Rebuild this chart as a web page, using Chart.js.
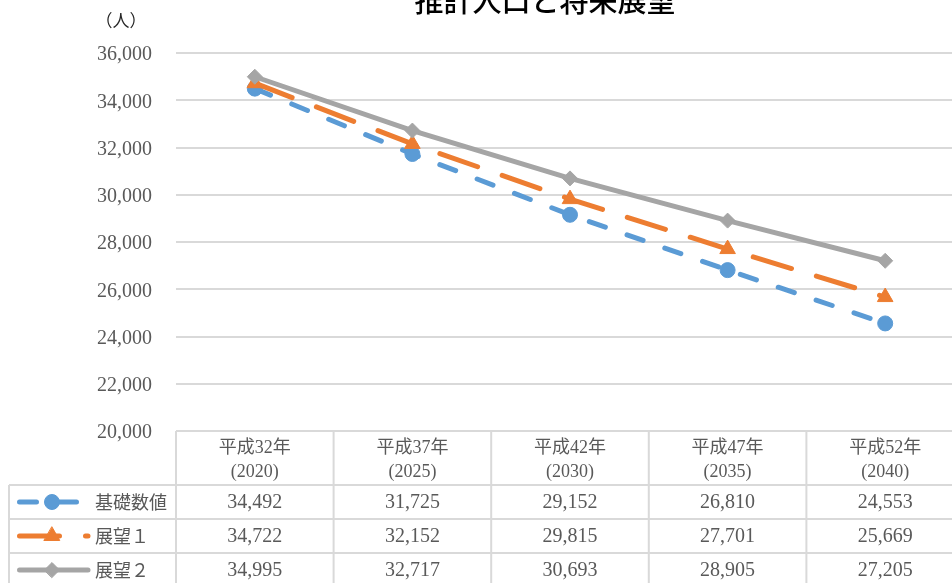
<!DOCTYPE html>
<html>
<head>
<meta charset="utf-8">
<script src="https://cdn.jsdelivr.net/npm/chart.js@4"></script>
<style>
  html, body { margin: 0; padding: 0; background: #fff; overflow: hidden; }
  #wrap { width: 966px; height: 583px; position: relative; }
</style>
</head>
<body>
<div id="wrap"><canvas id="c" width="966" height="583"></canvas></div>
<script>
// 推計人口と将来展望 — population projection (persons)
const categories = [
  ['平成32年', '(2020)'],
  ['平成37年', '(2025)'],
  ['平成42年', '(2030)'],
  ['平成47年', '(2035)'],
  ['平成52年', '(2040)']
];
const seriesNames = ['基礎数値', '展望１', '展望２'];
const baseValues    = [34492, 31725, 29152, 26810, 24553];
const vision1Values = [34722, 32152, 29815, 27701, 25669];
const vision2Values = [34995, 32717, 30693, 28905, 27205];
const yMin = 20000, yMax = 36000, yStep = 2000;

const titleText = '推計人口と将来展望';
const unitText = '（人）';

const BLUE = '#5B9BD5', ORANGE = '#ED7D31', GRAY = '#A5A5A5';
const GRID = '#d9d9d9', TEXT = '#595959';
const SERIF = '"Liberation Serif", "Noto Sans CJK JP", serif';
const CJK = '"Noto Sans CJK JP", "Liberation Serif", sans-serif';

const blueDash = [17, 23];
const orangeDash = [40, 26];

const fmt = v => v.toLocaleString('en-US');

// Data table under the plot, with legend keys in the first column
const tablePlugin = {
  id: 'dataTable',
  afterDraw(chart) {
    const ctx = chart.ctx;
    const area = chart.chartArea;
    const xs = chart.scales.x;
    const n = categories.length;
    const centers = categories.map((_, i) => xs.getPixelForValue(i));
    const bw = centers[1] - centers[0];
    const edges = [centers[0] - bw / 2, ...centers.map(c => c + bw / 2)];
    const legendLeft = 9;
    const top = area.bottom;
    const headerH = 54, rowH = 34;
    const rowTops = [top + headerH, top + headerH + rowH, top + headerH + 2 * rowH];
    const bottom = chart.height + 10;
    const right = edges[n];

    ctx.save();
    // title and unit
    ctx.fillStyle = '#000';
    ctx.font = '500 29px ' + CJK;
    ctx.textAlign = 'center';
    ctx.textBaseline = 'alphabetic';
    ctx.fillText(titleText, 545, 12);
    ctx.font = '17px ' + CJK;
    ctx.fillStyle = '#262626';
    ctx.textBaseline = 'middle';
    ctx.fillText(unitText, 121, 21);

    // grid of the table
    ctx.strokeStyle = GRID;
    ctx.lineWidth = 2;
    ctx.beginPath();
    ctx.moveTo(edges[0], top); ctx.lineTo(right, top);
    rowTops.forEach(y => { ctx.moveTo(legendLeft, y); ctx.lineTo(right, y); });
    ctx.moveTo(legendLeft, rowTops[0]); ctx.lineTo(legendLeft, bottom);
    edges.forEach(x => { ctx.moveTo(x, top); ctx.lineTo(x, bottom); });
    ctx.stroke();

    // header cells
    ctx.fillStyle = TEXT;
    ctx.textAlign = 'center';
    ctx.textBaseline = 'middle';
    categories.forEach((lines, i) => {
      ctx.font = '18px ' + SERIF;
      ctx.fillText(lines[0], centers[i], top + 17);
      ctx.fillText(lines[1], centers[i], top + 41);
    });

    // value rows
    const sets = chart.data.datasets;
    sets.forEach((ds, r) => {
      const yc = rowTops[r] + rowH / 2;
      ctx.font = '20px ' + SERIF;
      ctx.fillStyle = TEXT;
      ctx.textAlign = 'center';
      ds.data.forEach((v, i) => ctx.fillText(fmt(v), centers[i], yc + 1));

      // legend key: a short line in the series style with its marker
      const x0 = 19.5, x1 = r === 0 ? 79.5 : 88, mx = 52;
      ctx.save();
      ctx.strokeStyle = ds.borderColor;
      ctx.lineWidth = 5;
      ctx.lineCap = 'round';
      ctx.setLineDash(ds.borderDash || []);
      ctx.beginPath();
      ctx.moveTo(x0, yc); ctx.lineTo(x1, yc);
      ctx.stroke();
      ctx.setLineDash([]);
      ctx.fillStyle = ds.pointBackgroundColor;
      ctx.strokeStyle = ds.pointBorderColor;
      ctx.lineWidth = ds.pointBorderWidth;
      Chart.helpers.drawPoint(ctx, {
        pointStyle: ds.pointStyle,
        radius: ds.pointRadius,
        borderWidth: ds.pointBorderWidth,
        rotation: 0
      }, mx, yc);
      ctx.restore();

      ctx.font = '18px ' + CJK;
      ctx.fillStyle = TEXT;
      ctx.textAlign = 'left';
      ctx.fillText(seriesNames[r], 95, yc);
    });
    ctx.restore();
  }
};

new Chart(document.getElementById('c'), {
  type: 'line',
  data: {
    labels: categories.map(c => c.join(' ')),
    datasets: [
      {
        label: seriesNames[0], data: baseValues,
        borderColor: BLUE, backgroundColor: BLUE,
        borderWidth: 5, borderDash: blueDash, borderCapStyle: 'round',
        pointStyle: 'circle', pointRadius: 7.5, pointBorderWidth: 1,
        pointBackgroundColor: BLUE, pointBorderColor: BLUE,
        order: 2
      },
      {
        label: seriesNames[1], data: vision1Values,
        borderColor: ORANGE, backgroundColor: ORANGE,
        borderWidth: 5, borderDash: orangeDash, borderCapStyle: 'round',
        pointStyle: 'triangle', pointRadius: 9, pointBorderWidth: 1,
        pointBackgroundColor: ORANGE, pointBorderColor: ORANGE,
        order: 1
      },
      {
        label: seriesNames[2], data: vision2Values,
        borderColor: GRAY, backgroundColor: GRAY,
        borderWidth: 5, borderCapStyle: 'round',
        pointStyle: 'rectRot', pointRadius: 7.5, pointBorderWidth: 1,
        pointBackgroundColor: GRAY, pointBorderColor: GRAY,
        order: 0
      }
    ]
  },
  options: {
    responsive: false,
    devicePixelRatio: 1,
    animation: false,
    layout: { autoPadding: false, padding: { top: 53, bottom: 152, left: 0, right: 2 } },
    plugins: { legend: { display: false }, title: { display: false }, tooltip: { enabled: false } },
    elements: { line: { tension: 0 } },
    scales: {
      x: { type: 'category', offset: true, display: false },
      y: {
        min: yMin, max: yMax,
        afterFit(scale) { scale.width = 176; },
        border: { display: false },
        grid: { color: GRID, lineWidth: 2, drawTicks: false },
        ticks: {
          stepSize: yStep, padding: 24, color: TEXT, labelOffset: 2,
          font: { family: SERIF, size: 20 },
          callback: v => fmt(v)
        }
      }
    }
  },
  plugins: [tablePlugin]
});
</script>
</body>
</html>
